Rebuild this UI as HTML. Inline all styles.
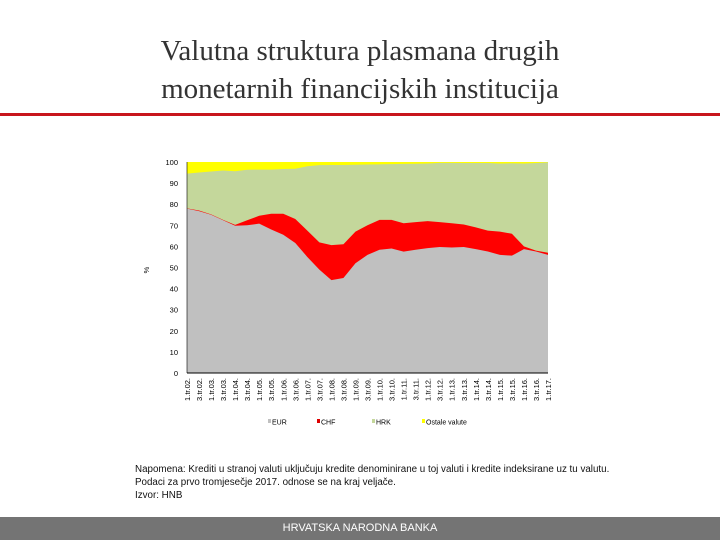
<!DOCTYPE html>
<html><head><meta charset="utf-8"><style>
body{margin:0;width:720px;height:540px;background:#fff;position:relative;overflow:hidden;font-family:"Liberation Sans",sans-serif}
.title{position:absolute;left:0;width:720px;top:32px;text-align:center;font-family:"Liberation Serif",serif;font-size:29px;line-height:38px;color:#333}
.notes{position:absolute;left:135px;top:463px;font-size:9.8px;line-height:13px;color:#111}
</style></head><body>
<div class="title">Valutna struktura plasmana drugih<br>monetarnih financijskih institucija</div>
<div style="position:absolute;left:0;top:113px;width:720px;height:3px;background:#c8161d"></div>
<svg id="chart" width="720" height="540" style="position:absolute;left:0;top:0"></svg>
<div class="notes">Napomena: Krediti u stranoj valuti uključuju kredite denominirane u toj valuti i kredite indeksirane uz tu valutu.<br>Podaci za prvo tromjesečje 2017. odnose se na kraj veljače.<br>Izvor: HNB</div>
<div style="position:absolute;left:0;top:517px;width:720px;height:23px;background:#747474;color:#fff;font-size:11px;line-height:23px;text-align:center">HRVATSKA NARODNA BANKA</div>
<script>
const categories=["1.tr.02.","3.tr.02.","1.tr.03.","3.tr.03.","1.tr.04.","3.tr.04.","1.tr.05.","3.tr.05.","1.tr.06.","3.tr.06.","1.tr.07.","3.tr.07.","1.tr.08.","3.tr.08.","1.tr.09.","3.tr.09.","1.tr.10.","3.tr.10.","1.tr.11.","3.tr.11.","1.tr.12.","3.tr.12.","1.tr.13.","3.tr.13.","1.tr.14.","3.tr.14.","1.tr.15.","3.tr.15.","1.tr.16.","3.tr.16.","1.tr.17."];
const eur=[77.9,76.7,75,72.4,69.8,70,70.8,68,65.5,61.6,55,49,44,45,52,56,58.4,59,57.5,58.4,59.2,59.7,59.5,59.7,58.7,57.6,56,55.6,58.7,57.6,56];
const chf=[0.1,0.3,0.2,0.2,0.4,2.4,3.7,7.5,10,11.4,12.5,12.9,16.6,16,15,14,14.2,13.6,13.5,13.1,12.8,11.8,11.5,10.7,10.3,9.9,11,10.4,1.3,0.4,1];
const hrk=[16.5,18,20.3,23.4,25.4,23.9,21.9,20.9,21.2,23.8,30.5,36.6,38,37.6,31.7,28.8,26.3,26.4,28.1,27.7,27.3,28.1,28.6,29.1,30.5,32,32.3,33.4,39.3,41.5,42.8];
const yTicks=[0,10,20,30,40,50,60,70,80,90,100];
const legendLabels=["EUR","CHF","HRK","Ostale valute"];
const colors=["#c0c0c0","#ff0000","#c4d79b","#ffff00"];
const NS="http://www.w3.org/2000/svg",svg=document.getElementById("chart");
const x0=187,x1=548,yb=373,yt=162;
const X=i=>x0+i*(x1-x0)/(categories.length-1);
const Y=v=>yb-v*(yb-yt)/100;
function el(t,a){const e=document.createElementNS(NS,t);for(const k in a)e.setAttribute(k,a[k]);svg.appendChild(e);return e;}
const r=el("rect",{x:x0,y:yt,width:x1-x0,height:yb-yt,fill:colors[3]});

const cum=[eur.map(v=>v),eur.map((v,i)=>v+chf[i]),eur.map((v,i)=>v+chf[i]+hrk[i])];
const names=['eur-area','chf-area','hrk-area'];
for(let s=2;s>=0;s--){
 let d="M"+X(0)+","+Y(0);
 cum[s].forEach((v,i)=>d+="L"+X(i)+","+Y(v));
 d+="L"+X(categories.length-1)+","+Y(0)+"Z";
 const p=el("path",{d:d,fill:colors[s]});
 
}
el("line",{x1:x0,y1:yb,x2:x1,y2:yb,stroke:"#000","stroke-width":1});
el("line",{x1:x0,y1:yt,x2:x0,y2:yb,stroke:"#000","stroke-width":0.6});
yTicks.forEach(t=>{const tx=el("text",{x:178,y:Y(t)+3,"text-anchor":"end","font-size":7.5,fill:"#000"});tx.textContent=t;
});
const yt2=el("text",{x:147,y:272,"font-size":7.5,"text-anchor":"middle",transform:"rotate(-90 147 270)"});yt2.textContent="%";

categories.forEach((c,i)=>{const tx=el("text",{x:0,y:0,"font-size":7.5,"text-anchor":"end",transform:`translate(${X(i)+3},378) rotate(-90)`});tx.textContent=c;
});
const lx=[272,321,376,426];
legendLabels.forEach((l,i)=>{const g=el("g",{});

const sq=document.createElementNS(NS,"rect");sq.setAttribute("x",lx[i]-4);sq.setAttribute("y",419);sq.setAttribute("width",3);sq.setAttribute("height",4);sq.setAttribute("fill",i==1?"#dd0000":colors[i]);g.appendChild(sq);
const t=document.createElementNS(NS,"text");t.setAttribute("x",lx[i]);t.setAttribute("y",424.5);t.setAttribute("font-size",7);t.textContent=l;g.appendChild(t);});
</script>
</body></html>
